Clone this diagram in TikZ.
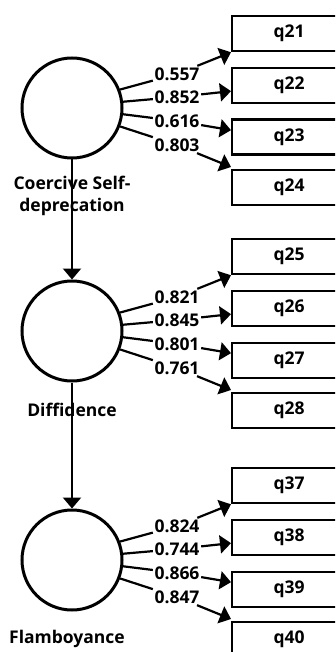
\documentclass[tikz,border=0pt]{standalone}
\usepackage{fontspec}
\setmainfont{Open Sans}
\usetikzlibrary{arrows.meta}
\begin{document}
\begin{tikzpicture}[x=1pt,y=-1pt,
  lbl/.style={font=\bfseries\fontsize{17.5}{22}\selectfont},
  lv/.style={circle,draw,line width=3pt,minimum size=100pt,inner sep=0pt},
  ind/.style={draw,line width=2.3pt,minimum width=114pt,minimum height=35pt,
    inner sep=0pt,anchor=north west,lbl},
  wt/.style={inner sep=1.5pt,lbl},
  link/.style={line width=2.2pt},
  ldg/.style={line width=2.2pt,-{Triangle[length=11pt,width=18pt]}},
]
\useasboundingbox (0,0) rectangle (335,652);
\clip (0,0) rectangle (335,652);

% latent factors with their four indicators each
\foreach \blk/\top/\na/\nb/\nc/\nd/\va/\vb/\vc/\vd in {
  A/15/21/22/23/24/0.557/0.852/0.616/0.803,
  B/238/25/26/27/28/0.821/0.845/0.801/0.761,
  C/467/37/38/39/40/0.824/0.744/0.866/0.847}
{
  \node[lv] (\blk) at (72,\top+93) {};
  \node[ind] (q\na) at (231,\top) {q\na};
  \node[ind] (q\nb) at (231,\top+52) {q\nb};
  \node[ind] (q\nc) at (231,\top+103.5) {q\nc};
  \node[ind] (q\nd) at (231,\top+154) {q\nd};
  \node[wt] (l\na) at (177,\top+59) {\va};
  \node[wt] (l\nb) at (177,\top+82) {\vb};
  \node[wt] (l\nc) at (177,\top+106) {\vc};
  \node[wt] (l\nd) at (177,\top+130) {\vd};
  \coordinate (t\na) at (q\na.south west);
  \coordinate (t\nb) at ([yshift=-5.5pt]q\nb.west);
  \coordinate (t\nc) at ([yshift=7pt]q\nc.west);
  \coordinate (t\nd) at ([yshift=2pt]q\nd.north west);
  \draw[link] (\blk.21) -- (l\na);
  \draw[link] (\blk.7) -- (l\nb);
  \draw[link] (\blk.-7) -- (l\nc);
  \draw[link] (\blk.-21) -- (l\nd);
  \draw[ldg] (l\na) -- (t\na);
  \draw[ldg] (l\nb) -- (t\nb);
  \draw[ldg] (l\nc) -- (t\nc);
  \draw[ldg] (l\nd) -- (t\nd);
}

% factor names
\node[lbl,align=center] (nA) at (72,196) {Coercive Self-\\deprecation};
\node[lbl] (nB) at (72,410) {Diffidence};
\node[lbl] (nC) at (67,639) {Flamboyance};

% structural paths
\draw[ldg] (A) -- (B);
\draw[ldg] (B) -- (C);
\end{tikzpicture}
\end{document}
